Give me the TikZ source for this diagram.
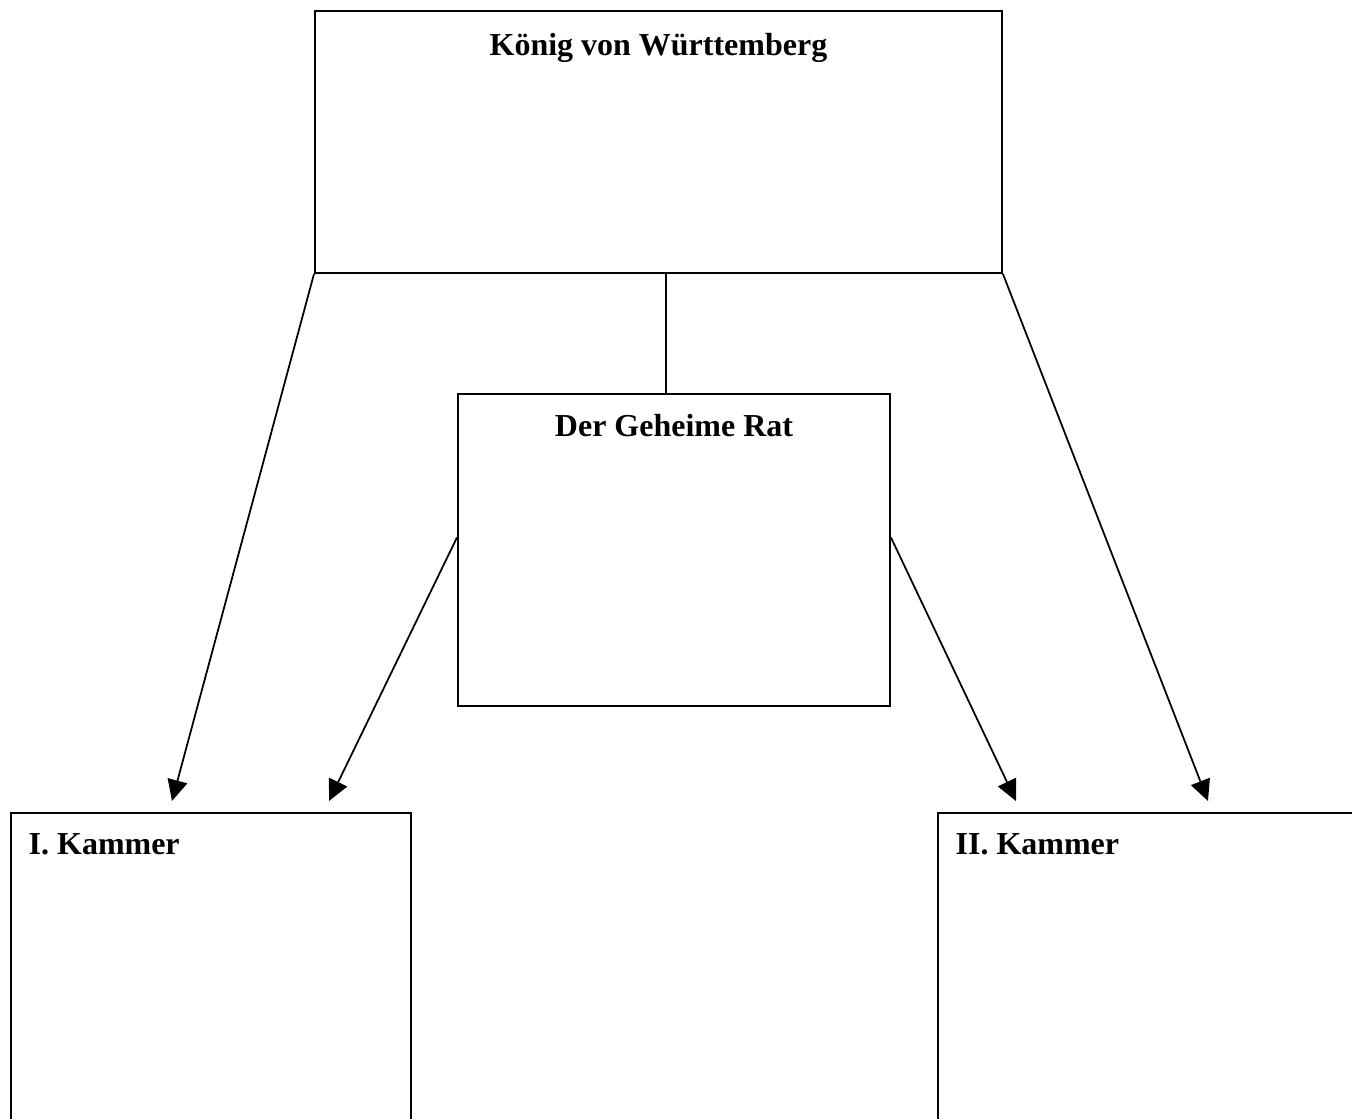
\documentclass[tikz,border=0pt]{standalone}
\usepackage{fontspec}
\setmainfont{Liberation Serif}
\usetikzlibrary{positioning, arrows.meta, calc}

\begin{document}
\begin{tikzpicture}[font=\fontsize{18.2}{22}\selectfont\bfseries,
  kasten/.style={draw, line width=1.1pt, rectangle, anchor=north west, inner sep=0pt},
  pfeil/.style={line width=1pt, -{Triangle[length=0.42cm, width=0.4cm]}}]
  \clip (0,0) rectangle (27.04,-22.38);
  \fill[white] (0,0) rectangle (27.04,-22.38);
  % Kaesten
  \node[kasten, minimum width=13.74cm, minimum height=5.24cm] (koenig) at (6.28,-0.2) {};
  \node[kasten, minimum width=8.64cm, minimum height=6.24cm] (rat) at (9.14,-7.86) {};
  \node[kasten, minimum width=8.0cm, minimum height=8cm] (kammer1) at (0.2,-16.24) {};
  \node[kasten, minimum width=9.0cm, minimum height=8cm] (kammer2) at (18.74,-16.24) {};
  % Beschriftungen
  \node[below=0.35cm of koenig.north, anchor=north] (koenigtext) {König von Württemberg};
  \node[below=0.3cm of rat.north, anchor=north] (rattext) {Der Geheime Rat};
  \node[anchor=north west] (kammer1text) at ($(kammer1.north west)+(0.25,-0.3)$) {I. Kammer};
  \node[anchor=north west] (kammer2text) at ($(kammer2.north west)+(0.25,-0.3)$) {II. Kammer};
  % Verbindungen
  \coordinate (z1) at (3.44,-16.02);
  \coordinate (z2) at (6.58,-16.02);
  \coordinate (z3) at (20.32,-16.02);
  \coordinate (z4) at (24.16,-16.02);
  \coordinate (ratoben) at ($(rat.north)+(-0.16,0)$);
  \coordinate (ratlinks) at ($(rat.north west)!0.46!(rat.south west)$);
  \coordinate (ratrechts) at ($(rat.north east)!0.46!(rat.south east)$);
  \draw[line width=1pt] (ratoben |- koenig.south) -- (ratoben);
  \draw[pfeil] (koenig.south west) -- (z1);
  \draw[pfeil] (ratlinks) -- (z2);
  \draw[pfeil] (ratrechts) -- (z3);
  \draw[pfeil] (koenig.south east) -- (z4);
\end{tikzpicture}
\end{document}
